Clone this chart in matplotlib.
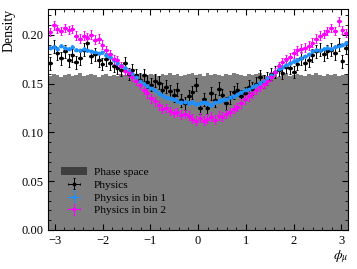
import numpy as np
import matplotlib
matplotlib.use("Agg")
import matplotlib.pyplot as plt
from matplotlib.ticker import AutoMinorLocator, MultipleLocator

plt.rcParams['font.family'] = ['Liberation Serif', 'DejaVu Serif']
plt.rcParams['mathtext.fontset'] = 'stix'

n_bins = 80
edges = np.linspace(-np.pi, np.pi, n_bins + 1)
centers = 0.5 * (edges[:-1] + edges[1:])
half_w = 0.5 * (edges[1] - edges[0])

phase_space = [
    0.158, 0.160, 0.159, 0.157, 0.159, 0.160, 0.158, 0.159, 0.161, 0.158,
    0.159, 0.160, 0.159, 0.157, 0.159, 0.160, 0.158, 0.159, 0.158, 0.160,
    0.159, 0.161, 0.159, 0.158, 0.160, 0.159, 0.158, 0.160, 0.159, 0.158,
    0.160, 0.159, 0.161, 0.159, 0.160, 0.158, 0.159, 0.160, 0.161, 0.159,
    0.160, 0.158, 0.161, 0.159, 0.160, 0.159, 0.158, 0.160, 0.159, 0.161,
    0.160, 0.159, 0.158, 0.160, 0.159, 0.160, 0.161, 0.159, 0.158, 0.160,
    0.159, 0.157, 0.159, 0.160, 0.158, 0.159, 0.160, 0.159, 0.158, 0.160,
    0.159, 0.161, 0.159, 0.158, 0.160, 0.159, 0.160, 0.158, 0.159, 0.160,
]

physics = [
    0.171, 0.188, 0.181, 0.176, 0.183, 0.174, 0.179, 0.172, 0.176, 0.185,
    0.192, 0.178, 0.180, 0.174, 0.170, 0.175, 0.171, 0.168, 0.166, 0.164,
    0.171, 0.160, 0.164, 0.159, 0.154, 0.159, 0.152, 0.149, 0.153, 0.151,
    0.144, 0.147, 0.142, 0.138, 0.144, 0.133, 0.130, 0.137, 0.141, 0.149,
    0.125, 0.134, 0.125, 0.140, 0.133, 0.145, 0.138, 0.130, 0.136, 0.141,
    0.144, 0.137, 0.140, 0.147, 0.145, 0.150, 0.157, 0.152, 0.155, 0.160,
    0.162, 0.164, 0.161, 0.167, 0.166, 0.162, 0.170, 0.176, 0.171, 0.174,
    0.179, 0.183, 0.185, 0.180, 0.183, 0.185, 0.181, 0.190, 0.173, 0.187,
]

bin1 = [
    0.187, 0.188, 0.186, 0.189, 0.187, 0.186, 0.188, 0.185, 0.184, 0.186,
    0.184, 0.183, 0.182, 0.181, 0.182, 0.179, 0.177, 0.174, 0.171, 0.168,
    0.166, 0.163, 0.160, 0.157, 0.153, 0.150, 0.148, 0.146, 0.143, 0.140,
    0.138, 0.136, 0.135, 0.134, 0.132, 0.131, 0.131, 0.130, 0.131, 0.129,
    0.130, 0.131, 0.130, 0.128, 0.131, 0.132, 0.133, 0.134, 0.136, 0.137,
    0.139, 0.141, 0.143, 0.145, 0.147, 0.149, 0.151, 0.153, 0.156, 0.159,
    0.162, 0.165, 0.167, 0.169, 0.171, 0.173, 0.174, 0.176, 0.178, 0.180,
    0.183, 0.185, 0.184, 0.186, 0.187, 0.186, 0.188, 0.189, 0.190, 0.192,
]

bin2 = [
    0.203, 0.210, 0.206, 0.204, 0.207, 0.205, 0.206, 0.199, 0.196, 0.199,
    0.197, 0.200, 0.195, 0.196, 0.190, 0.184, 0.180, 0.175, 0.174, 0.168,
    0.163, 0.161, 0.157, 0.153, 0.149, 0.144, 0.140, 0.135, 0.132, 0.128,
    0.124, 0.125, 0.122, 0.120, 0.121, 0.118, 0.119, 0.117, 0.114, 0.112,
    0.115, 0.112, 0.114, 0.116, 0.113, 0.117, 0.116, 0.119, 0.121, 0.124,
    0.126, 0.130, 0.134, 0.137, 0.140, 0.144, 0.147, 0.150, 0.153, 0.157,
    0.162, 0.168, 0.172, 0.175, 0.177, 0.181, 0.184, 0.186, 0.187, 0.189,
    0.192, 0.196, 0.199, 0.201, 0.204, 0.207, 0.204, 0.214, 0.205, 0.202,
]

err_physics = 0.0065
err_bin1 = 0.0018
err_bin2 = 0.0045

fig = plt.figure(figsize=(3.57, 2.69), dpi=100)
ax = fig.add_axes([0.1345, 0.145, 0.8405, 0.8215])

ax.stairs(phase_space, edges, fill=True, color='black', alpha=0.5,
          linewidth=0, label='Phase space')
ebkw = dict(fmt='o', ms=1.8, elinewidth=0.7, capsize=0.8, capthick=0.7)
ax.errorbar(centers, physics, yerr=err_physics, xerr=half_w,
            color='black', label='Physics', **ebkw)
ax.errorbar(centers, bin1, yerr=err_bin1, xerr=half_w,
            color='#1e90ff', label='Physics in bin 1', **ebkw)
ax.errorbar(centers, bin2, yerr=err_bin2, xerr=half_w,
            color='#ff00ff', label='Physics in bin 2', **ebkw)

ax.set_xlim(-np.pi, np.pi)
ax.set_ylim(0, 0.2265)
ax.xaxis.set_major_locator(MultipleLocator(1))
ax.xaxis.set_minor_locator(AutoMinorLocator(5))
ax.yaxis.set_major_locator(MultipleLocator(0.05))
ax.yaxis.set_minor_locator(AutoMinorLocator(5))
ax.tick_params(which='both', direction='in', top=True, right=True, labelsize=9)
ax.tick_params(which='major', length=4)
ax.tick_params(which='minor', length=2)
ax.yaxis.set_major_formatter(matplotlib.ticker.FormatStrFormatter('%.2f'))

ax.set_ylabel('Density', loc='top', fontsize=10)
ax.set_xlabel(r'$\phi_\mu$', loc='right', fontsize=10, labelpad=1)

ax.legend(loc='lower left', bbox_to_anchor=(0.02, 0.035), frameon=False,
          fontsize=8.2, handlelength=2.3, handletextpad=0.6,
          labelspacing=0.25, borderaxespad=0.2)

fig.savefig('out.png', dpi=100)
